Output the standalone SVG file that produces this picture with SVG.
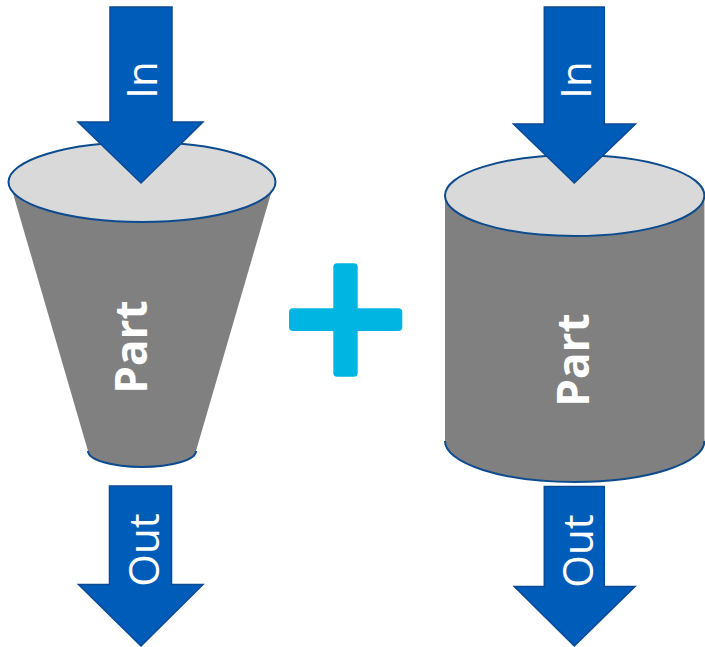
<svg xmlns="http://www.w3.org/2000/svg" width="705" height="647" viewBox="0 0 705 647">
<defs>
<style>
.arrow{fill:#005CB9;stroke:#0A4A94;stroke-width:1.5;stroke-linejoin:miter}
.body{fill:#808080;stroke:none}
.top{fill:#D9D9D9;stroke:#0C4B8E;stroke-width:2}
.rim{fill:none;stroke:#0C4B8E;stroke-width:2}
.lbl{fill:#FFFFFF;font-family:"Open Sans","Noto Sans","DejaVu Sans",sans-serif;font-size:42px;text-anchor:middle}
.part{fill:#FFFFFF;font-family:"Open Sans","Noto Sans","DejaVu Sans",sans-serif;font-size:44px;font-weight:bold;text-anchor:middle}
.plus{fill:#00B5E2}
</style>
</defs>
<rect width="705" height="647" fill="#FFFFFF"/>
<g id="cone">
<polygon class="body" points="10,183 88,451 196,451 274,183"/>
<ellipse class="body" cx="142" cy="451" rx="54" ry="16"/>
<path class="rim" d="M88,451 A54,16 0 0 0 196,451"/>
<ellipse class="top" cx="142" cy="182" rx="133.5" ry="40"/>
<text class="part" transform="translate(147,347) rotate(-90)">Part</text>
</g>
<g id="cylinder">
<rect class="body" x="445" y="195.5" width="259.4" height="245.5"/>
<ellipse class="body" cx="574.7" cy="441" rx="129.7" ry="41"/>
<path class="rim" d="M445,441 A129.7,41 0 0 0 704.4,441"/>
<ellipse class="top" cx="574.7" cy="195.5" rx="129.7" ry="40.5"/>
<text class="part" transform="translate(589,360) rotate(-90)">Part</text>
</g>
<g id="plus">
<rect class="plus" x="333.3" y="263.3" width="24.4" height="113.4" rx="4"/>
<rect class="plus" x="289" y="308.3" width="113.3" height="22.7" rx="4"/>
</g>
<g id="connectors">
<g id="in-left">
<polygon class="arrow" points="110,7 172,7 172,122 203,122 141,183 78,122 110,122"/>
<text class="lbl" transform="translate(157,80) rotate(-90)">In</text>
</g>
<g id="out-left">
<polygon class="arrow" points="109.5,486 171.5,486 171.5,584.5 203,584.5 141,646 78.5,584.5 109.5,584.5"/>
<text class="lbl" transform="translate(158.5,550) rotate(-90)">Out</text>
</g>
<g id="in-right">
<polygon class="arrow" points="544.3,7 604.3,7 604.3,124 635.5,124 574.3,183 513.5,124 544.3,124"/>
<text class="lbl" transform="translate(591,80) rotate(-90)">In</text>
</g>
<g id="out-right">
<polygon class="arrow" points="544.3,486.5 604.3,486.5 604.3,586.5 635,586.5 574.3,646 514.3,586.5 544.3,586.5"/>
<text class="lbl" transform="translate(592.5,551) rotate(-90)">Out</text>
</g>
</g>
</svg>
